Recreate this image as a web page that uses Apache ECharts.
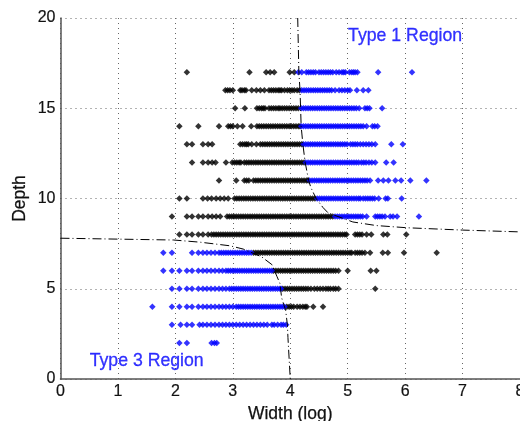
<!DOCTYPE html>
<html><head><meta charset="utf-8">
<style>html,body{margin:0;padding:0;background:#fff}#c{width:520px;height:421px}</style>
<script src="https://cdn.jsdelivr.net/npm/echarts@6/dist/echarts.min.js"></script>
</head><body><div id="c"></div>
<script>
const xTicks = [0,1,2,3,4,5,6,7,8];
const yTicks = [0,5,10,15,20];
const depths = [17,16,15,14,13,12,11,10,9,8,7,6,5,4,3,2];

const black17=[2.2,3.29,3.58,3.65,3.72,3.99,4.07];
const blue17=[4.14,4.2,4.28,4.32,4.36,4.4,4.44,4.5,4.54,4.58,4.62,4.66,4.7,4.74,4.8,4.85,4.9,4.93,4.96,5.03,5.07,5.1,5.13,5.17,5.53,6.12];
const black16=[2.87,2.91,2.95,3,3.13,3.16,3.2,3.23,3.33,3.41,3.48,3.55,3.63,3.67,3.71,3.75,3.79,3.82,3.85,3.9,3.95,3.99,4.03,4.07,4.12,4.16];
const blue16=[4.2,4.24,4.28,4.32,4.36,4.4,4.44,4.48,4.52,4.56,4.6,4.64,4.68,4.72,4.78,4.85,4.9,4.95,5,5.04,5.16,5.27,5.36];
const black15=[3.04,3.21,3.42,3.46,3.5,3.53,3.56,3.63,3.67,3.71,3.75,3.79,3.82,3.86,3.9,3.94,3.98,4.02,4.06,4.1,4.14];
const blue15=[4.19,4.23,4.27,4.31,4.35,4.39,4.43,4.47,4.51,4.55,4.59,4.63,4.67,4.71,4.75,4.79,4.83,4.87,4.91,4.95,4.99,5.03,5.07,5.11,5.15,5.2,5.3,5.34,5.38,5.6];
const black14=[2.07,2.4,2.76,2.92,2.96,3,3.08,3.17,3.32,3.42,3.46,3.5,3.54,3.58,3.62,3.66,3.7,3.74,3.78,3.82,3.86,3.9,3.94,3.98,4.02,4.06,4.1,4.14,4.17];
const blue14=[4.19,4.23,4.27,4.31,4.35,4.39,4.43,4.47,4.51,4.55,4.59,4.63,4.67,4.71,4.75,4.79,4.83,4.87,4.91,4.95,4.99,5.03,5.07,5.11,5.15,5.19,5.23,5.27,5.33,5.43,5.47,5.52];
const black13=[2.2,2.29,2.48,2.57,2.64,3.13,3.17,3.21,3.24,3.27,3.33,3.41,3.48,3.52,3.56,3.6,3.64,3.68,3.72,3.76,3.8,3.84,3.88,3.92,3.96,4,4.04,4.08,4.12,4.16,4.2];
const blue13=[4.23,4.27,4.31,4.35,4.39,4.43,4.47,4.51,4.55,4.59,4.63,4.67,4.71,4.75,4.79,4.83,4.87,4.91,4.95,4.99,5.05,5.09,5.13,5.17,5.22,5.27,5.32,5.37,5.42,5.48,5.76,5.96];
const black12=[2.29,2.48,2.57,2.64,2.7,2.88,2.99,3.03,3.07,3.11,3.14,3.2,3.24,3.28,3.32,3.36,3.4,3.44,3.48,3.52,3.56,3.6,3.64,3.68,3.72,3.76,3.8,3.84,3.88,3.92,3.96,4,4.04,4.08,4.12,4.16,4.2,4.24];
const blue12=[4.27,4.31,4.35,4.39,4.43,4.47,4.51,4.55,4.59,4.63,4.67,4.71,4.75,4.79,4.83,4.87,4.91,4.95,4.99,5.03,5.07,5.11,5.15,5.19,5.24,5.28,5.32,5.37,5.42,5.48,5.67,5.8];
const black11=[2.76,3.06,3.2,3.24,3.28,3.36,3.4,3.44,3.48,3.52,3.56,3.6,3.64,3.68,3.72,3.76,3.8,3.84,3.88,3.92,3.96,4,4.04,4.08,4.12,4.16,4.2,4.24,4.28,4.31];
const blue11=[4.34,4.38,4.42,4.46,4.5,4.54,4.58,4.62,4.66,4.7,4.74,4.78,4.82,4.86,4.9,4.94,4.98,5.02,5.06,5.1,5.14,5.18,5.22,5.26,5.3,5.34,5.39,5.53,5.62,5.71,5.83,5.93,6.09,6.37];
const black10=[2.07,2.2,2.48,2.56,2.63,2.71,2.78,2.85,2.92,3.03,3.07,3.11,3.15,3.19,3.23,3.27,3.31,3.35,3.39,3.43,3.47,3.51,3.55,3.59,3.63,3.67,3.71,3.75,3.79,3.83,3.87,3.91,3.95,3.99,4.03,4.07,4.11,4.15,4.19,4.23,4.27,4.31,4.35,4.39,4.43];
const blue10=[4.47,4.51,4.55,4.59,4.63,4.67,4.71,4.75,4.79,4.83,4.87,4.91,4.95,4.99,5.03,5.07,5.11,5.15,5.19,5.22,5.27,5.31,5.35,5.39,5.43,5.47,5.54,5.66,5.7,5.94];
const black9=[1.94,2.2,2.29,2.4,2.48,2.57,2.64,2.71,2.78,2.9,2.94,2.98,3.02,3.06,3.1,3.14,3.18,3.22,3.26,3.3,3.34,3.38,3.42,3.46,3.5,3.54,3.58,3.62,3.66,3.7,3.74,3.78,3.82,3.86,3.9,3.94,3.98,4.02,4.06,4.1,4.14,4.18,4.22,4.26,4.3,4.34,4.38,4.42,4.46,4.5,4.54,4.58,4.62,4.66,4.7,4.74];
const blue9=[4.78,4.82,4.86,4.9,4.94,4.98,5.02,5.06,5.1,5.14,5.18,5.22,5.26,5.33,5.48,5.52,5.56,5.6,5.65,5.74,5.79,5.86,6.24];
const black8=[2.07,2.2,2.29,2.4,2.48,2.57,2.63,2.67,2.71,2.75,2.79,2.83,2.87,2.91,2.95,2.99,3.03,3.07,3.11,3.15,3.19,3.23,3.27,3.31,3.35,3.39,3.43,3.47,3.51,3.55,3.59,3.63,3.67,3.71,3.75,3.79,3.83,3.87,3.91,3.95,3.99,4.03,4.07,4.11,4.15,4.19,4.23,4.27,4.31,4.35,4.39,4.43,4.47,4.51,4.55,4.59,4.63,4.67,4.71,4.75,4.79,4.83,4.87,4.91,4.95,4.98,5.13,5.17,5.21,5.25,5.33,5.41,5.62,5.69,6.02];
const blue7=[1.79,1.94,2.29,2.4,2.48,2.55,2.62,2.69,2.76,2.8,2.84,2.88,2.92,2.96,3,3.04,3.08,3.12,3.16,3.2,3.24,3.28,3.32];
const black7=[3.36,3.4,3.44,3.48,3.52,3.56,3.6,3.64,3.68,3.72,3.76,3.8,3.84,3.88,3.92,3.96,4,4.04,4.08,4.12,4.16,4.2,4.24,4.28,4.32,4.36,4.4,4.44,4.48,4.52,4.56,4.6,4.64,4.68,4.72,4.76,4.8,4.84,4.88,4.92,4.96,5,5.04,5.07,5.13,5.17,5.21,5.25,5.3,5.39,5.61,5.7,5.98,6.55];
const blue6=[1.79,1.94,2.07,2.2,2.29,2.4,2.48,2.55,2.62,2.69,2.76,2.82,2.88,2.92,2.96,3,3.04,3.08,3.12,3.16,3.2,3.24,3.28,3.32,3.36,3.4,3.44,3.48,3.52,3.56,3.6,3.64,3.68];
const black6=[3.71,3.75,3.79,3.83,3.87,3.91,3.95,3.99,4.03,4.07,4.11,4.15,4.19,4.23,4.27,4.31,4.35,4.39,4.43,4.47,4.51,4.55,4.59,4.63,4.67,4.71,4.75,4.79,4.84,5,5.4,5.5];
const blue5=[1.94,2.07,2.2,2.29,2.4,2.48,2.55,2.62,2.69,2.76,2.82,2.88,2.94,2.98,3.02,3.06,3.1,3.14,3.18,3.22,3.26,3.3,3.34,3.38,3.42,3.46,3.5,3.54,3.58,3.62,3.66,3.7,3.74,3.78,3.82,3.84];
const black5=[3.87,3.91,3.95,3.99,4.03,4.07,4.11,4.15,4.19,4.23,4.27,4.31,4.36,4.42,4.47,4.52,4.57,4.62,4.66,4.7,4.75,4.79,4.84,5.48];
const blue4=[1.6,1.94,2.07,2.2,2.29,2.4,2.48,2.55,2.62,2.69,2.76,2.82,2.88,2.94,3,3.06,3.1,3.14,3.18,3.22,3.26,3.3,3.34,3.38,3.42,3.46,3.5,3.54,3.58,3.62,3.66,3.7,3.74,3.78,3.82,3.86,3.9];
const black4=[3.94,3.98,4.02,4.06,4.12,4.17,4.22,4.26,4.29,4.4,4.57];
const blue3=[1.94,2.09,2.2,2.29,2.42,2.48,2.55,2.62,2.69,2.76,2.82,2.88,2.94,3,3.06,3.12,3.18,3.24,3.3,3.36,3.42,3.48,3.54,3.6,3.68,3.72,3.78,3.84,3.88,3.93];
const blue2=[2.07,2.2,2.63,2.68,2.72];

const blackRows=[black17,black16,black15,black14,black13,black12,black11,black10,black9,black8,black7,black6,black5,black4,[],[]];
const blueRows=[blue17,blue16,blue15,blue14,blue13,blue12,blue11,blue10,blue9,[],blue7,blue6,blue5,blue4,blue3,blue2];

const type1Boundary=[[4.13,20],[4.15,17],[4.17,16],[4.19,14],[4.22,13],[4.26,12],[4.32,11],[4.36,10.6],[4.45,10],[4.57,9.5],[4.66,9.2],[5.09,8.7],[5.5,8.5],[6.03,8.38],[7,8.25],[8,8.15]];
const type3Boundary=[[0,7.8],[1.97,7.7],[2.43,7.58],[2.95,7.38],[3.18,7.2],[3.5,6.77],[3.68,6.34],[3.77,5.67],[3.82,5.3],[3.85,4.5],[3.92,3.8],[3.95,3],[3.96,2.3],[4,0]];
const regionLabels=[{name:'Type 1 Region',value:[6,19]},{name:'Type 3 Region',value:[1.5,1]}];

const toPoints=rows=>rows.flatMap((r,i)=>r.map(x=>[x,depths[i]]));
const chart=echarts.init(document.getElementById('c'),null,{renderer:'canvas'});
const font='"Liberation Sans", Arial, sans-serif';
const dots={show:true,lineStyle:{color:'#666',width:1,type:[1,4]}};
const nameStyle={color:'#111',fontSize:17.5,fontFamily:font,textBorderColor:'#111',textBorderWidth:0.25};
const tickStyle={color:'#111',fontSize:16,fontFamily:font,textBorderColor:'#111',textBorderWidth:0.2};
chart.setOption({
 animation:false,
 backgroundColor:'#fff',
 grid:{left:60.5,top:18,width:459.5,height:361,outerBoundsMode:'none'},
 xAxis:{type:'value',min:0,max:8,interval:1,name:'Width (log)',nameLocation:'middle',nameGap:25,
  nameTextStyle:nameStyle,
  axisLine:{lineStyle:{color:'#555',width:1.5}},axisTick:{show:false},
  axisLabel:Object.assign({margin:5,showMaxLabel:true,hideOverlap:false},tickStyle),
  splitLine:dots},
 yAxis:{type:'value',min:0,max:20,interval:5,name:'Depth',nameLocation:'middle',nameGap:31,nameMoveOverlap:false,
  nameTextStyle:nameStyle,
  axisLine:{show:true,lineStyle:{color:'#555',width:1.5}},axisTick:{show:false},
  axisLabel:Object.assign({margin:5},tickStyle),
  splitLine:dots},
 series:[
  {type:'scatter',symbol:'diamond',symbolSize:6.5,itemStyle:{color:'#000'},data:toPoints(blackRows),z:3},
  {type:'scatter',symbol:'diamond',symbolSize:6.5,itemStyle:{color:'#0000ff'},data:toPoints(blueRows),z:3},
  {type:'line',data:type1Boundary,showSymbol:false,symbol:'none',lineStyle:{color:'#000',width:1,type:[9,3,1,3]},z:4},
  {type:'line',data:type3Boundary,showSymbol:false,symbol:'none',lineStyle:{color:'#000',width:1,type:[9,3,1,3]},z:4},
  {type:'scatter',symbolSize:0,data:regionLabels,z:5,label:{show:true,position:'inside',formatter:p=>p.name,color:'#0000ff',fontSize:17.7,fontFamily:font,textBorderColor:'#0000ff',textBorderWidth:0.3}}
 ]
});
</script></body></html>
